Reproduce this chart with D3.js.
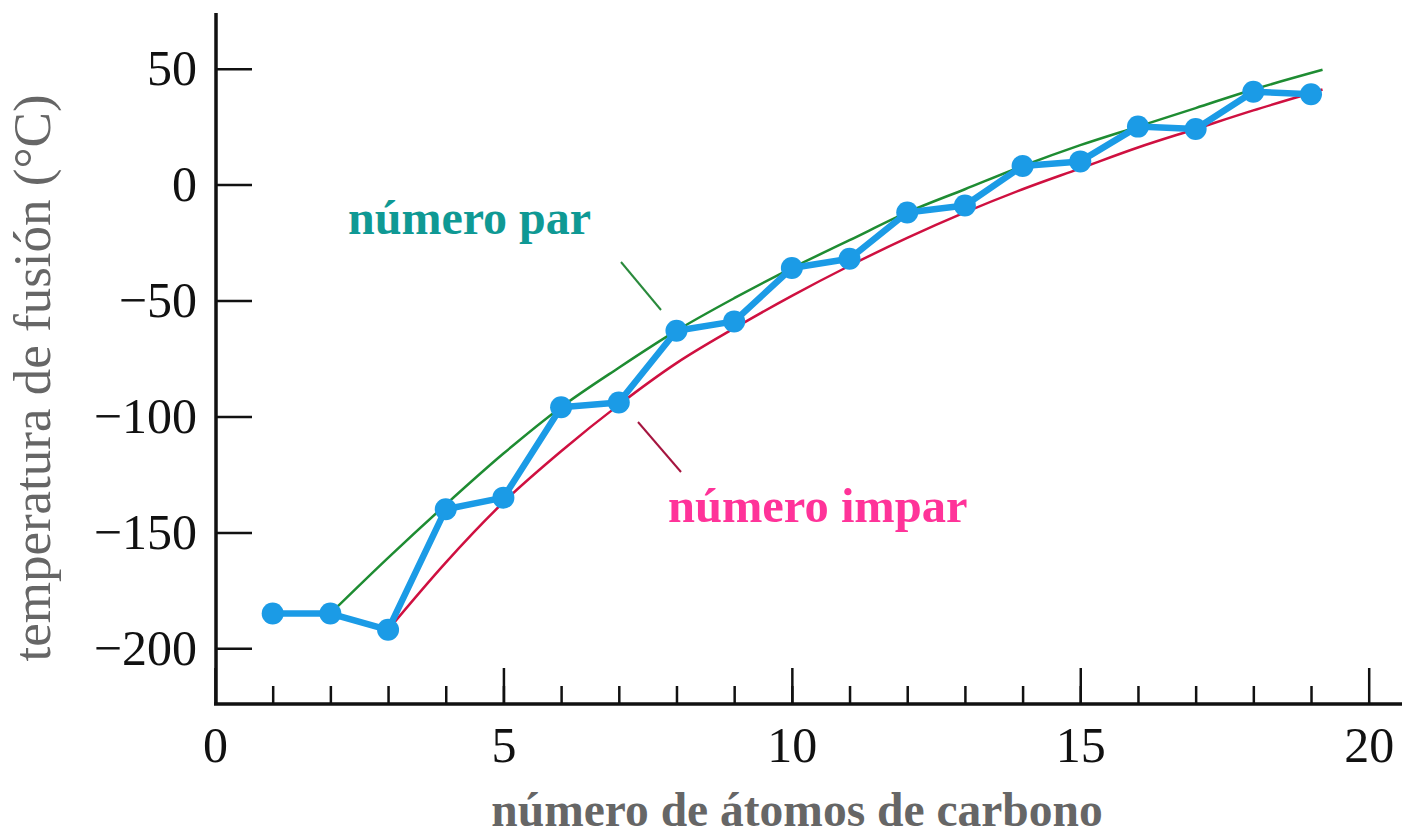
<head><script src="https://d3js.org/d3.v7.min.js"></script></head>

<body>
  <svg class="chart" width="1402" height="837"></svg>

  <script>
    // melting points of the linear alkanes
    var carbons = [1, 2, 3, 4, 5, 6, 7, 8, 9, 10, 11, 12, 13, 14, 15, 16, 17, 18, 19];
    var meltTemps = [-185, -185, -192, -140, -135, -96, -94, -63, -59, -36, -32, -12, -9, 8, 10, 25, 24, 40, 39];

    // trend for even numbers of carbons
    var evenX = [2, 3, 4, 5, 6, 7, 8, 9, 10, 11, 12, 13, 14, 15, 16, 17, 18, 19.2];
    var evenY = [-185, -161, -138, -116, -96, -79, -63, -49, -36, -24, -12, -2, 8, 17, 25, 33, 41, 49.5];

    // trend for odd numbers of carbons
    var oddX = [3, 4, 5, 6, 7, 8, 9, 10, 11, 12, 13, 14, 15, 16, 17, 18, 19, 19.2];
    var oddY = [-192, -163, -137, -115, -95, -77, -62, -48, -35, -23, -12, -2, 7, 16, 24, 32, 39.5, 41];

    var xMajor = [0, 5, 10, 15, 20];
    var yTicks = [-200, -150, -100, -50, 0, 50];

    var svg = d3.select(".chart");

    var x = d3.scaleLinear().domain([0, 20]).range([215, 1368.7]);
    var y = d3.scaleLinear().domain([-224, 74]).range([704, 13]);

    // minor ticks, one per carbon
    svg.append("g")
      .attr("transform", "translate(0,704)")
      .call(d3.axisBottom(x).tickValues(d3.range(1, 20)).tickSize(-18).tickFormat(""))
      .call(function(g) { g.select(".domain").remove(); });

    // major ticks with labels
    svg.append("g")
      .attr("class", "axis")
      .attr("transform", "translate(0,704)")
      .call(d3.axisBottom(x).tickValues(xMajor).tickSize(-36).tickPadding(22).tickFormat(d3.format("d")))
      .call(function(g) { g.select(".domain").remove(); });

    svg.append("g")
      .attr("class", "axis")
      .attr("transform", "translate(216,0)")
      .call(d3.axisLeft(y).tickValues(yTicks).tickSize(-36).tickPadding(19))
      .call(function(g) { g.select(".domain").remove(); });

    svg.selectAll(".tick line").attr("stroke", "#111").attr("stroke-width", 2.5);

    // axis lines
    svg.append("line").attr("x1", 216).attr("x2", 216).attr("y1", 13).attr("y2", 705)
      .attr("stroke", "#111").attr("stroke-width", 3.5);
    svg.append("line").attr("x1", 214).attr("x2", 1402).attr("y1", 704).attr("y2", 704)
      .attr("stroke", "#111").attr("stroke-width", 3.5);

    var trend = d3.line()
      .x(function(d) { return x(d[0]); })
      .y(function(d) { return y(d[1]); })
      .curve(d3.curveMonotoneX);

    svg.append("path").attr("d", trend(d3.zip(evenX, evenY)))
      .attr("fill", "none").attr("stroke", "#1e8c32").attr("stroke-width", 2.5);
    svg.append("path").attr("d", trend(d3.zip(oddX, oddY)))
      .attr("fill", "none").attr("stroke", "#cf1040").attr("stroke-width", 2.5);

    // measured points
    var pts = d3.zip(carbons, meltTemps);
    svg.append("path").attr("d", d3.line().x(function(d) { return x(d[0]); }).y(function(d) { return y(d[1]); })(pts))
      .attr("fill", "none").attr("stroke", "#1b9be6").attr("stroke-width", 6.5).attr("stroke-linejoin", "round");
    svg.selectAll("circle.pt").data(pts).enter().append("circle")
      .attr("class", "pt")
      .attr("cx", function(d) { return x(d[0]); })
      .attr("cy", function(d) { return y(d[1]); })
      .attr("r", 11)
      .attr("fill", "#1b9be6");

    // labels with leader lines
    svg.append("text").attr("class", "lbl").attr("x", 348).attr("y", 234)
      .attr("fill", "#0f9994").style("font-size", "48px").text("número par");
    svg.append("line").attr("x1", 621).attr("y1", 262).attr("x2", 661).attr("y2", 310)
      .attr("stroke", "#2a8a3c").attr("stroke-width", 2);

    svg.append("text").attr("class", "lbl").attr("x", 668).attr("y", 522)
      .attr("fill", "#ff3399").style("font-size", "48.5px").text("número impar");
    svg.append("line").attr("x1", 638).attr("y1", 422).attr("x2", 681).attr("y2", 472)
      .attr("stroke", "#a5153f").attr("stroke-width", 2);

    // axis titles
    svg.append("text").attr("class", "title").attr("x", 797).attr("y", 826)
      .attr("text-anchor", "middle").style("font-weight", "bold")
      .text("número de átomos de carbono");
    svg.append("text").attr("class", "title")
      .attr("transform", "translate(50,378) rotate(-90)")
      .attr("text-anchor", "middle").style("font-size", "53px")
      .text("temperatura de fusión (°C)");
  </script>
</body>

<style>
body { margin: 0; background: #fff; }
svg { display: block; }
.axis text {
  font-family: 'Liberation Serif', 'Times New Roman', serif;
  font-size: 50px;
  fill: #111;
}
.lbl {
  font-family: 'Liberation Serif', 'Times New Roman', serif;
  font-size: 47px;
  font-weight: bold;
}
.title {
  font-family: 'Liberation Serif', 'Times New Roman', serif;
  font-size: 47.5px;
  fill: #666;
}
</style>
